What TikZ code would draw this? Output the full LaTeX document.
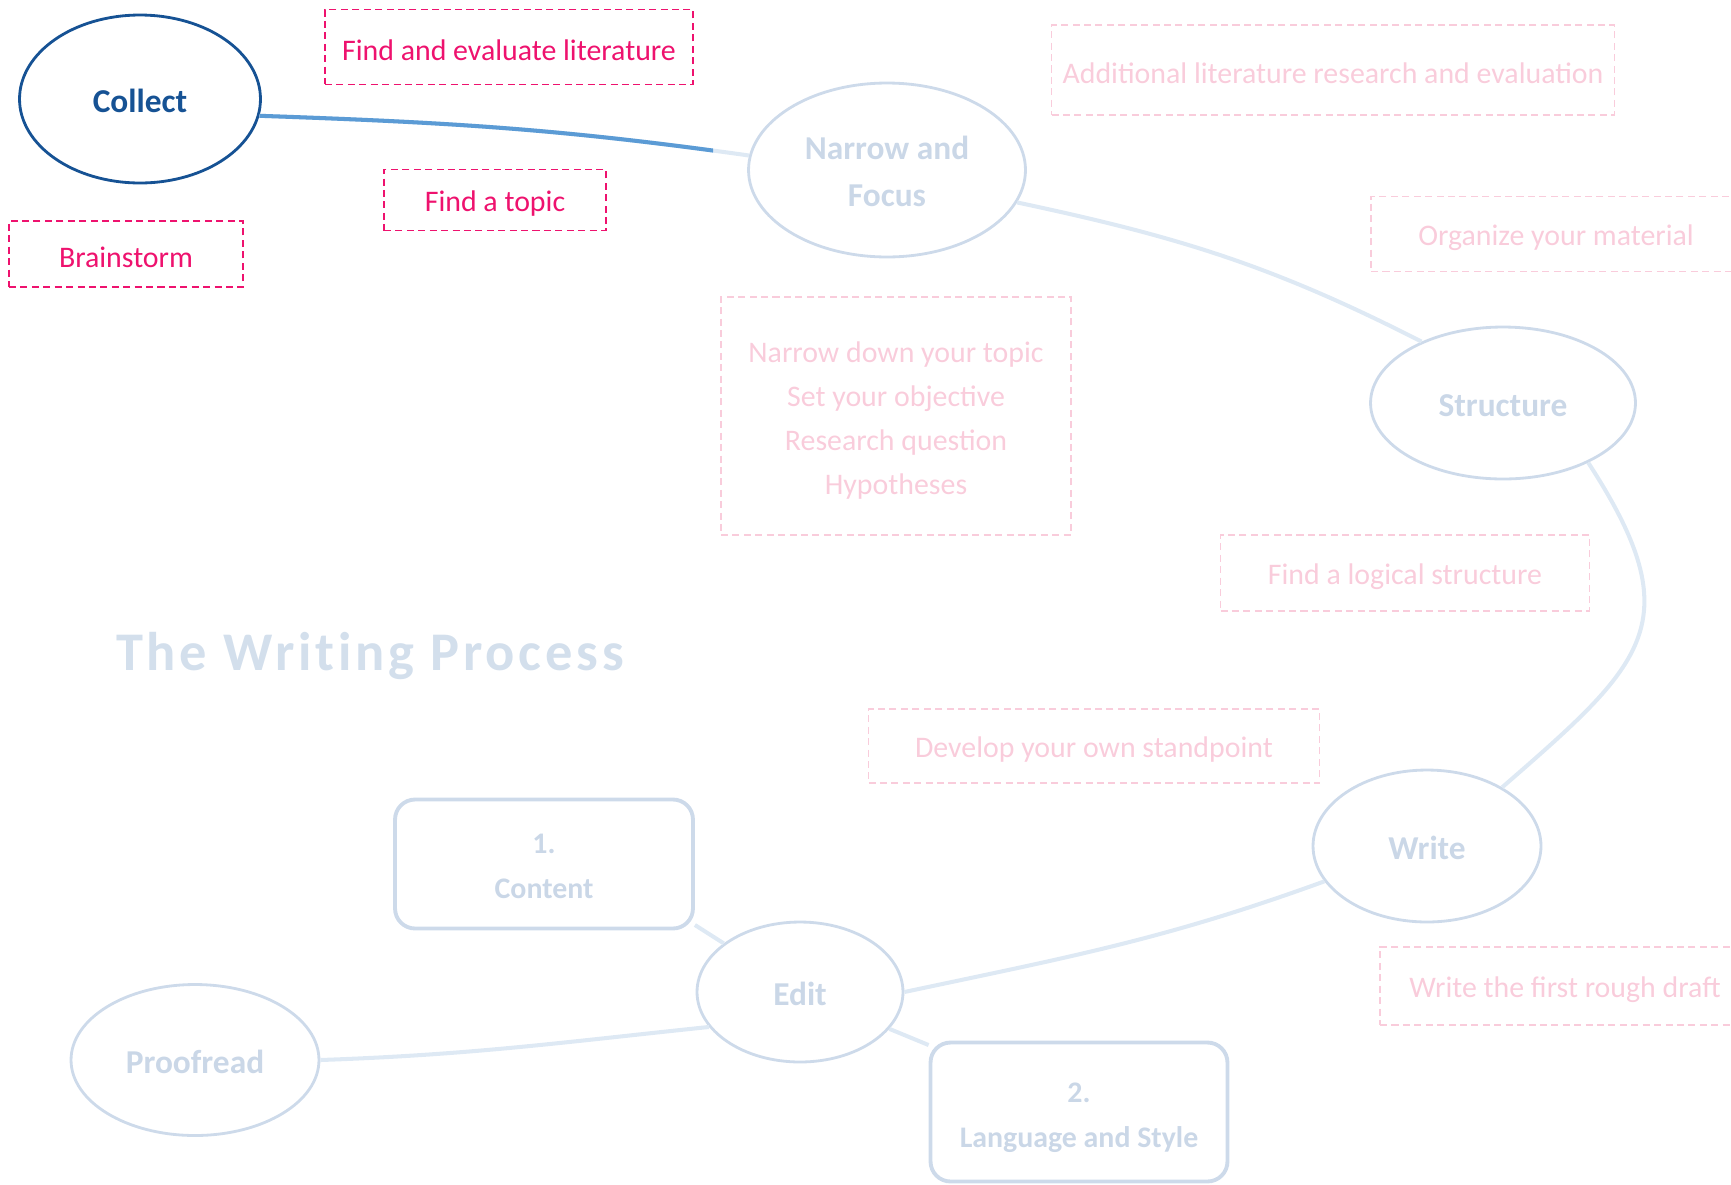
\documentclass[tikz,border=0pt]{standalone}
\usepackage{fontspec}
\setmainfont{Carlito}
\newfontfamily\titrefont[LetterSpace=7, Ligatures=NoCommon]{Carlito}
\usetikzlibrary{shapes.geometric}
\definecolor{bleufonce}{RGB}{22,82,148}
\definecolor{bleulien}{RGB}{91,155,213}
\definecolor{bleupale}{RGB}{205,218,234}
\definecolor{textepale}{RGB}{202,215,231}
\definecolor{lienpale}{RGB}{222,233,244}
\definecolor{titrepale}{RGB}{211,223,236}
\definecolor{rosevif}{RGB}{238,18,110}
\definecolor{rosepale}{RGB}{249,204,219}
\newcommand\hausse[1]{\rule{0pt}{#1em}}

\begin{document}
\begin{tikzpicture}[x=0.02cm, y=0.02cm]
\tikzset{etape/.style={ellipse, draw=bleupale, line width=1.6pt, inner sep=0pt, text=textepale, align=center, font=\fontsize{19}{27}\selectfont\bfseries, execute at begin node={\hausse{0.84}}}}
\tikzset{etapeactive/.style={etape, draw=bleufonce, text=bleufonce}}
\tikzset{sousetape/.style={draw=bleupale, rounded corners=0.4cm, line width=2.2pt, inner sep=0pt, text=textepale, align=center, font=\fontsize{17}{25.5}\selectfont\bfseries}}
\tikzset{tache/.style={draw=rosepale, dash pattern=on 4pt off 2.5pt, line width=0.9pt, inner sep=0pt, text=rosepale, align=center, font=\fontsize{17}{25}\selectfont, execute at begin node={\hausse{0.92}}}}
\tikzset{tacheactive/.style={tache, draw=rosevif, text=rosevif}}
\tikzset{lien/.style={draw=lienpale, line width=2.3pt}}
\tikzset{lienactif/.style={draw=bleulien, line width=2.3pt}}
\useasboundingbox (0,0) rectangle (1731,-1184);
\clip (0,0) rectangle (1731,-1184);
\node[etapeactive, minimum width=4.82cm, minimum height=3.36cm] (E1) at (140,-99) {Collect};
\node[etape, minimum width=5.54cm, minimum height=3.48cm] (E2) at (887,-170) {\hausse{0.8}Narrow and\\Focus};
\node[etape, minimum width=5.30cm, minimum height=3.04cm] (E3) at (1503,-403) {Structure};
\node[etape, minimum width=4.56cm, minimum height=3.04cm] (E4) at (1427,-846) {Write};
\node[etape, minimum width=4.12cm, minimum height=2.80cm] (E5) at (800,-992) {Edit};
\node[etape, minimum width=4.96cm, minimum height=3.02cm] (E6) at (195,-1060) {Proofread};
\node[sousetape, minimum width=5.96cm, minimum height=2.58cm] (R1) at (544,-864) {\hausse{0.83}1.\\Content};
\node[sousetape, minimum width=5.94cm, minimum height=2.78cm] (R2) at (1079,-1112) {\hausse{1.03}2.\\Language and Style};
\node[tacheactive, minimum width=7.36cm, minimum height=1.50cm] (T1) at (509,-47) {Find and evaluate literature};
\node[tacheactive, minimum width=4.44cm, minimum height=1.22cm] (T2) at (495,-200) {Find a topic};
\node[tacheactive, minimum width=4.68cm, minimum height=1.32cm] (T3) at (126,-254) {Brainstorm};
\node[tache, minimum width=11.26cm, minimum height=1.80cm] (T4) at (1333,-70) {Additional literature research and evaluation};
\node[tache, minimum width=7.40cm, minimum height=1.50cm] (T5) at (1556,-234) {Organize your material};
\node[tache, minimum width=7.00cm, minimum height=4.76cm] (T6) at (896,-416) {\hausse{1}Narrow down your topic\\Set your objective\\Research question\\Hypotheses};
\node[tache, minimum width=7.38cm, minimum height=1.52cm] (T7) at (1405,-573) {Find a logical structure};
\node[tache, minimum width=9.02cm, minimum height=1.48cm] (T8) at (1094,-746) {Develop your own standpoint};
\node[tache, minimum width=7.40cm, minimum height=1.56cm] (T9) at (1565,-986) {Write the first rough draft};
\node[text=titrepale, font=\titrefont\fontsize{31}{36}\selectfont\bfseries] (titre) at (370,-656) {The Writing Process};
\draw[lien] (E1.-8) to[out=-2, in=172] (E2.174);
\begin{scope}
\clip (0,0) rectangle (713,-300);
\draw[lienactif] (E1.-8) to[out=-2, in=172] (E2.174);
\end{scope}
\draw[lien] (E2.-14) to[out=-12, in=153] (E3.143);
\draw[lien] (E3.-35) to[out=-57, in=41, looseness=1.45] (E4.38);
\draw[lien] (E4.199) to[out=200, in=12] (E5.east);
\draw[lien] (E5.201) to[out=186, in=2] (E6.east);
\draw[lien] (E5) -- (R1.-22);
\draw[lien] (E5) -- (R2.156);
\end{tikzpicture}
\end{document}
